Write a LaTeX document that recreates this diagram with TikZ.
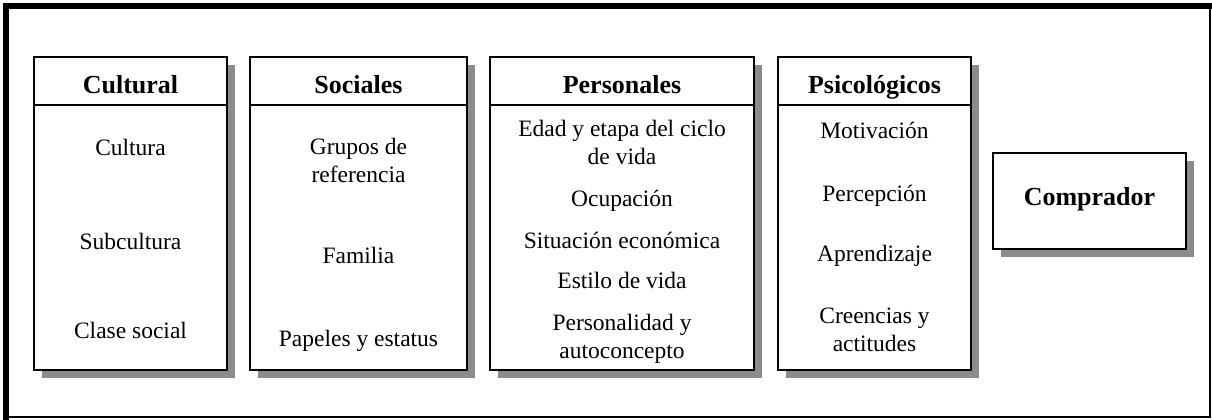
\documentclass[tikz,border=0pt]{standalone}
\usepackage{fontspec}
\setmainfont{Liberation Serif}
\usetikzlibrary{shadows}

\tikzset{
    colbox/.style={draw, line width=1.6pt, fill=white, inner sep=0pt,
        drop shadow={shadow xshift=8pt, shadow yshift=-8pt, fill=black!45, opacity=1}},
    headbox/.style={draw, line width=1.6pt, fill=white, inner sep=0pt,
        minimum height=48pt, text height=24pt, text depth=0pt,
        font=\fontsize{26}{30}\selectfont\bfseries},
    item/.style={align=center, inner sep=0pt, text height=0.7em, text depth=0.25em,
        font=\fontsize{23.5}{28}\selectfont}
}

\begin{document}
\begin{tikzpicture}[x=1pt, y=-1pt]
    \useasboundingbox (0,0) rectangle (1212,420);
    % frame
    \draw[line width=6pt] (1212,6) -- (6,6) -- (6,420);
    \draw[line width=1.5pt] (3,417) -- (1210,417) -- (1210,6);

    % columns
    \node[colbox, minimum width=193pt, minimum height=313pt] (cul) at (130.5,213.5) {};
    \node[headbox, minimum width=193pt] (culh) at (cul.north) [anchor=north] {Cultural};
    \node[colbox, minimum width=217pt, minimum height=313pt] (soc) at (358.5,213.5) {};
    \node[headbox, minimum width=217pt] (soch) at (soc.north) [anchor=north] {Sociales};
    \node[colbox, minimum width=264pt, minimum height=313pt] (per) at (622,213.5) {};
    \node[headbox, minimum width=264pt] (perh) at (per.north) [anchor=north] {Personales};
    \node[colbox, minimum width=193pt, minimum height=313pt] (psi) at (874.5,213.5) {};
    \node[headbox, minimum width=193pt] (psih) at (psi.north) [anchor=north] {Psicológicos};

    \node[colbox, minimum width=193pt, minimum height=96pt, text height=18pt, text depth=10pt,
        font=\fontsize{26}{30}\selectfont\bfseries] (comp) at (1089.5,201) {Comprador};

    % items
    \foreach \txt/\y [count=\i] in {Cultura/153, Subcultura/247, {Clase social}/336}
      \node[item] (cul-\i) at (130.5,\y) {\txt};
    \foreach \txt/\y [count=\i] in {{Grupos de\\referencia}/180, Familia/261, {Papeles y estatus}/344}
      \node[item] (soc-\i) at (358.5,\y) {\txt};
    \foreach \txt/\y [count=\i] in {{Edad y etapa del ciclo\\de vida}/162.5, Ocupación/204,
        {Situación económica}/246, {Estilo de vida}/286, {Personalidad y\\autoconcepto}/356}
      \node[item] (per-\i) at (622,\y) {\txt};
    \foreach \txt/\y [count=\i] in {Motivación/136, Percepción/199, Aprendizaje/259,
        {Creencias y\\actitudes}/349}
      \node[item] (psi-\i) at (874.5,\y) {\txt};
\end{tikzpicture}
\end{document}
